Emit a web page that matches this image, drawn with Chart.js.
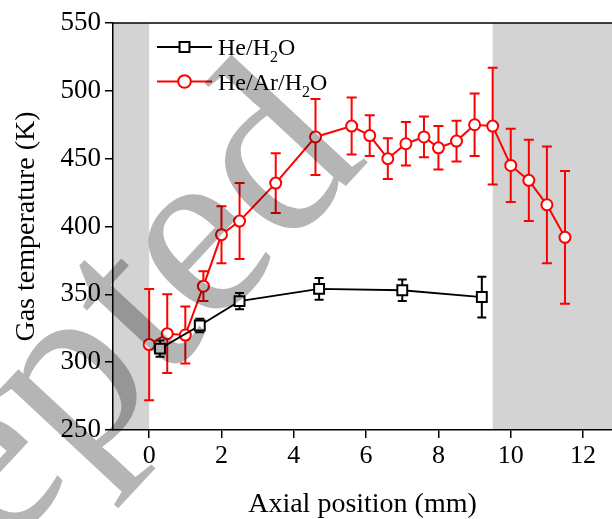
<!DOCTYPE html>
<html>
<head>
<meta charset="utf-8">
<script src="https://cdn.jsdelivr.net/npm/chart.js@4/dist/chart.umd.min.js"></script>
<style>
  body { margin: 0; background: #fff; }
  #wrap { position: relative; width: 612px; height: 519px; }
</style>
</head>
<body>
<div id="wrap"><canvas id="myChart"></canvas></div>
<script>
// He/H2O series
const heX = [0.3, 1.4, 2.5, 4.7, 7.0, 9.2];
const heY = [310, 327, 345, 354, 353, 348];
const heErr = [6, 5, 6, 8, 8, 15];

// He/Ar/H2O series
const arX = [0, 0.5, 1.0, 1.5, 2.0, 2.5, 3.5, 4.6, 5.6, 6.1, 6.6, 7.1, 7.6, 8.0, 8.5, 9.0, 9.5, 10.0, 10.5, 11.0, 11.5];
const arY = [313, 321, 320, 356, 394, 404, 432, 466, 474, 467, 450, 461, 466, 458, 463, 475, 474, 445, 434, 416, 392];
const arErr = [41, 29, 21, 11, 21, 28, 22, 28, 21, 15, 15, 16, 15, 16, 15, 23, 43, 27, 30, 43, 49];

const xTicks = [0, 2, 4, 6, 8, 10, 12];
const yTicks = [250, 300, 350, 400, 450, 500, 550];
// shaded regions (mm)
const bands = [[-1, 0], [9.5, 12.8]];

const serif = "'Liberation Serif', 'Times New Roman', serif";

const toPts = (xs, ys) => xs.map((v, i) => ({x: v, y: ys[i]}));

const shading = {
  id: 'shading',
  beforeDraw(chart) {
    const {ctx, chartArea, scales: {x}} = chart;
    ctx.save();
    ctx.fillStyle = '#d3d3d3';
    bands.forEach(b => {
      const x0 = Math.max(x.getPixelForValue(b[0]), chartArea.left);
      const x1 = Math.min(x.getPixelForValue(b[1]), chartArea.right);
      ctx.fillRect(x0, chartArea.top, x1 - x0, chartArea.bottom - chartArea.top);
    });
    ctx.restore();
  }
};

const errorBars = {
  id: 'errorBars',
  beforeDatasetsDraw(chart) {
    const {ctx, scales: {x, y}} = chart;
    ctx.save();
    for (let i = chart.data.datasets.length - 1; i >= 0; i--) {
      const ds = chart.data.datasets[i];
      ctx.strokeStyle = ds.borderColor;
      ctx.lineWidth = 2;
      ds.data.forEach((p, j) => {
        const px = x.getPixelForValue(p.x);
        const t = y.getPixelForValue(p.y + ds.err[j]);
        const b = y.getPixelForValue(p.y - ds.err[j]);
        const w = ds.capW;
        ctx.beginPath();
        ctx.moveTo(px, t); ctx.lineTo(px, b);
        ctx.moveTo(px - w, t); ctx.lineTo(px + w, t);
        ctx.moveTo(px - w, b); ctx.lineTo(px + w, b);
        ctx.stroke();
      });
    }
    ctx.restore();
  }
};

const frameTop = {
  id: 'frameTop',
  afterDatasetsDraw(chart) {
    const {ctx, chartArea} = chart;
    ctx.save();
    ctx.strokeStyle = '#000';
    ctx.lineWidth = 1.5;
    ctx.beginPath();
    ctx.moveTo(chartArea.left, chartArea.top);
    ctx.lineTo(chartArea.right, chartArea.top);
    ctx.stroke();
    ctx.restore();
  }
};

// legend with subscripts
const legendBox = {
  id: 'legendBox',
  afterDatasetsDraw(chart) {
    const {ctx, chartArea} = chart;
    const rows = [
      [['He/H', 0], ['2', 1], ['O', 0]],
      [['He/Ar/H', 0], ['2', 1], ['O', 0]]
    ];
    ctx.save();
    chart.data.datasets.forEach((ds, i) => {
      const yy = chartArea.top + 24 + i * 34.5;
      const x0 = chartArea.left + 44, x1 = chartArea.left + 99;
      const cx = (x0 + x1) / 2;
      ctx.strokeStyle = ds.borderColor;
      ctx.lineWidth = 2;
      ctx.beginPath(); ctx.moveTo(x0, yy); ctx.lineTo(x1, yy); ctx.stroke();
      ctx.fillStyle = ds.pointBackgroundColor;
      ctx.lineWidth = ds.pointBorderWidth;
      ctx.beginPath();
      if (ds.pointStyle === 'circle') ctx.arc(cx, yy, ds.pointRadius + 0.8, 0, Math.PI * 2);
      else { const s = ds.pointRadius * Math.SQRT1_2; ctx.rect(cx - s, yy - s, 2 * s, 2 * s); }
      ctx.fill(); ctx.stroke();
      let tx = x1 + 6;
      ctx.fillStyle = '#000';
      ctx.textBaseline = 'alphabetic';
      rows[i].forEach(([txt, sub]) => {
        ctx.font = (sub ? '16px ' : '24px ') + serif;
        ctx.fillText(txt, tx, yy + 8 + (sub ? 7 : 0));
        tx += ctx.measureText(txt).width;
      });
    });
    ctx.restore();
  }
};

const watermark = {
  id: 'watermark',
  afterDraw(chart) {
    const {ctx} = chart;
    ctx.save();
    ctx.font = '250px ' + serif;
    const pre = ctx.measureText('Accept').width;
    const ew = ctx.measureText('e').width;
    ctx.translate(206, 254);
    ctx.rotate(-47 * Math.PI / 180);
    ctx.fillStyle = 'rgba(0,0,0,0.29)';
    ctx.textBaseline = 'alphabetic';
    ctx.fillText('Accepted', -pre - ew / 2, 56);
    ctx.restore();
  }
};

const ctx = document.getElementById('myChart').getContext('2d');
const myChart = new Chart(ctx, {
  type: 'line',
  data: {
    datasets: [
      {
        label: 'He/H2O',
        data: toPts(heX, heY),
        err: heErr,
        capW: 4.5,
        borderColor: '#000',
        borderWidth: 1.8,
        pointStyle: 'rect',
        pointRadius: 7,
        pointBorderWidth: 2,
        pointBackgroundColor: '#fff',
        pointBorderColor: '#000',
        tension: 0
      },
      {
        label: 'He/Ar/H2O',
        data: toPts(arX, arY),
        err: arErr,
        capW: 5,
        borderColor: '#ff0000',
        borderWidth: 2,
        pointStyle: 'circle',
        pointRadius: 5.5,
        pointBorderWidth: 2,
        pointBackgroundColor: '#fff',
        pointBorderColor: '#ff0000',
        tension: 0
      }
    ]
  },
  options: {
    responsive: true,
    maintainAspectRatio: false,
    animation: false,
    layout: { autoPadding: false, padding: { top: 23, right: 0, left: 0, bottom: 0 } },
    plugins: { legend: { display: false }, tooltip: { enabled: false } },
    scales: {
      x: {
        type: 'linear', min: -1, max: 12.8,
        afterBuildTicks: s => { s.ticks = xTicks.map(v => ({value: v})); },
        afterFit: s => { s.height = 89; s.paddingRight = 0; s.paddingLeft = 0; },
        grid: { drawOnChartArea: false, tickLength: 8, color: '#000', lineWidth: 1.5 },
        border: { color: '#000', width: 1.5 },
        ticks: { color: '#000', font: { family: serif, size: 26 }, padding: 3, maxRotation: 0 },
        title: { display: true, text: 'Axial position (mm)', color: '#000',
                 font: { family: serif, size: 28, lineHeight: 1 }, padding: { top: 0, bottom: 0 } }
      },
      y: {
        min: 250, max: 550,
        afterBuildTicks: s => { s.ticks = yTicks.map(v => ({value: v})); },
        afterFit: s => { s.width = 113; },
        grid: { drawOnChartArea: false, tickLength: 8, color: '#000', lineWidth: 1.5 },
        border: { color: '#000', width: 1.5 },
        ticks: { color: '#000', font: { family: serif, size: 27 }, padding: 4 },
        title: { display: true, text: 'Gas temperature (K)', color: '#000',
                 font: { family: serif, size: 28, lineHeight: 1 }, padding: { top: 13, bottom: 0 } }
      }
    }
  },
  plugins: [shading, errorBars, frameTop, legendBox, watermark]
});
</script>
</body>
</html>
